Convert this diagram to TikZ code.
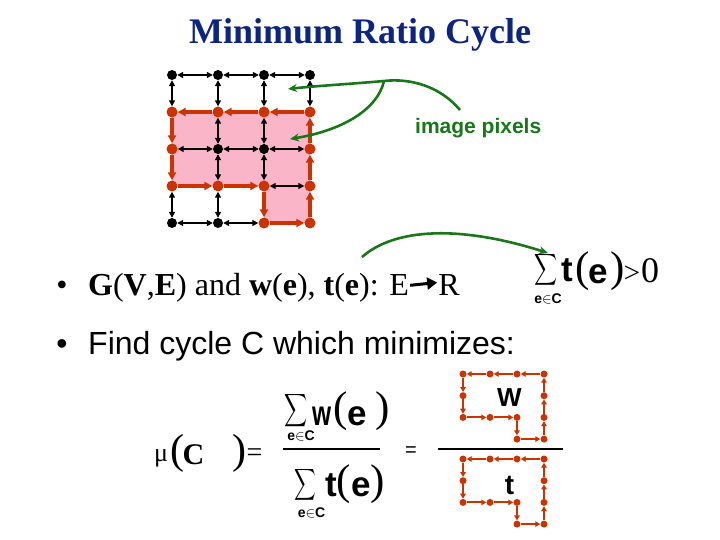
\documentclass[tikz,border=0pt]{standalone}
\usepackage{fontspec}
\usepackage{graphicx}
\setmainfont{Liberation Serif}
\setsansfont{Liberation Sans}
\usetikzlibrary{arrows.meta}
\definecolor{navy}{RGB}{12,36,130}
\definecolor{cycred}{RGB}{204,51,0}
\definecolor{pinkfill}{RGB}{250,182,200}
\definecolor{arrgreen}{RGB}{24,120,24}
\pgfdeclarelayer{bg}
\pgfsetlayers{bg,main}
\tikzset{
  bdot/.style={circle,fill=black,inner sep=0pt,minimum size=10pt},
  rdot/.style={circle,fill=cycred,inner sep=0pt,minimum size=11pt},
  sdot/.style={circle,fill=cycred,inner sep=0pt,minimum size=7pt},
  bedge/.style={line width=1.8pt,black,{Triangle[length=6pt,width=6pt]}-{Triangle[length=6pt,width=6pt]}},
  redge/.style={line width=3.2pt,cycred,-{Triangle[length=8pt,width=8pt]}},
  sredge/.style={line width=2pt,cycred,-{Triangle[length=5pt,width=5.5pt]}},
  garrow/.style={line width=2.6pt,arrgreen,-{Stealth[length=9pt,width=8pt]}},
  glyph/.style={inner sep=0pt,anchor=center},
  ab/.style={font=\fontsize{#1}{#1}\selectfont\sffamily\bfseries},
  tr/.style={font=\fontsize{#1}{#1}\selectfont\rmfamily},
  sub/.style={inner sep=0pt,anchor=center,font=\fontsize{14}{14}\selectfont\sffamily\bfseries},
}
\begin{document}
\begin{tikzpicture}[x=1pt,y=-1pt]
\useasboundingbox (0,0) rectangle (720,540);
% title
\node[anchor=base,inner sep=0pt,text=navy,font=\fontsize{36}{36}\selectfont\rmfamily\bfseries] (title) at (360,44) {Minimum Ratio Cycle};
% grid nodes
\foreach \i/\j/\s in {0/0/bdot,1/0/bdot,2/0/bdot,3/0/bdot,
  0/1/rdot,1/1/rdot,2/1/rdot,3/1/rdot,
  0/2/rdot,1/2/bdot,2/2/bdot,3/2/rdot,
  0/3/rdot,1/3/rdot,2/3/rdot,3/3/rdot,
  0/4/bdot,1/4/bdot,2/4/rdot,3/4/rdot}
  \node[\s] (g\i\j) at ({172+46*\i},{75+37*\j}) {};
\begin{pgfonlayer}{bg}
\fill[pinkfill] (g01.center) -- (g31.center) -- (g34.center) -- (g24.center) -- (g23.center) -- (g03.center) -- cycle;
\end{pgfonlayer}
\foreach \u/\v in {00/10,10/20,20/30,00/01,10/11,20/21,30/31,11/12,21/22,02/12,12/22,22/32,12/13,22/23,23/33,03/04,13/14,04/14,14/24}
  \draw[bedge] (g\u) -- (g\v);
\foreach \u/\v in {31/21,21/11,11/01,01/02,02/03,03/13,13/23,23/24,24/34,34/33,33/32,32/31}
  \draw[redge] (g\u) -- (g\v);
% label and green arrows
\node[anchor=base west,inner sep=0pt,text=arrgreen,font=\fontsize{21}{21}\selectfont\sffamily\bfseries] (pix) at (415,134) {image pixels};
\coordinate (ga0) at (460,110);
\coordinate (gb) at (384,81);
\coordinate (gt1) at (288,89);
\coordinate (gt2) at (290,139);
\draw[garrow] (ga0) .. controls (440,86) and (410,78) .. (gb) .. controls (350,84) and (315,86) .. (gt1);
\draw[garrow] (gb) .. controls (378,108) and (345,130) .. (gt2);
\coordinate (gc0) at (362,257);
\coordinate (gc1) at (548,253);
\draw[garrow] (gc0) .. controls (395,228) and (460,225) .. (gc1);
% bullet 1
\node[anchor=base,inner sep=0pt,tr=32] (b1) at (62,295) {•};
\node[anchor=base west,inner sep=0pt,tr=32] (l1) at (88,295) {\textbf{G}(\textbf{V},\textbf{E}) and \textbf{w}(\textbf{e}), \textbf{t}(\textbf{e}): E};
\node[anchor=base west,inner sep=0pt,tr=32] (rr) at ([xshift=29pt]l1.base east) {R};
\draw[line width=3pt,-{Triangle[length=10pt,width=12pt]}] ([xshift=1pt,yshift=2pt]l1.east) -- ([xshift=-1pt,yshift=2pt]rr.west);
% right condition
\node[glyph] (s1) at (546,270) {\scalebox{1.6}[2.2]{$\displaystyle\sum$}};
\node[sub] (s1sub) at (548,299) {e$\in$C};
\node[glyph,ab=35] (s1t) at (567.5,270) {t};
\node[glyph,tr=43] (s1p1) at (582.5,271) {(};
\node[glyph,ab=35] (s1e) at (598,274) {e};
\node[glyph,tr=43] (s1p2) at (617.5,271) {)};
\node[glyph,tr=29] (s1gt) at (632,274) {>};
\node[glyph,tr=36] (s1z) at (650,270.5) {0};
% bullet 2
\node[anchor=base,inner sep=0pt,font=\fontsize{32}{32}\selectfont\sffamily] (b2) at (62,354) {•};
\node[anchor=base west,inner sep=0pt,font=\fontsize{32}{32}\selectfont\sffamily] (l2) at (88,354) {Find cycle C which minimizes:};
% mu(C) =
\node[glyph,tr=26] (mu) at (161,458) {μ};
\node[glyph,tr=42] (pa1) at (177,453.5) {(};
\node[glyph,font=\fontsize{30}{30}\selectfont\rmfamily\bfseries] (cc) at (193.5,455) {C};
\node[glyph,tr=42] (pa2) at (239,453.5) {)};
\node[glyph,tr=28] (eq1) at (254.5,455.5) {=};
% numerator
\node[glyph] (s2) at (296,411) {\scalebox{1.6}[2.3]{$\displaystyle\sum$}};
\node[sub] (s2sub) at (301,435.5) {e$\in$C};
\node[glyph,ab=35] (s2w) at (322.5,416) {\scalebox{0.7}[1]{w}};
\node[glyph,tr=43] (s2p1) at (341,411) {(};
\node[glyph,ab=35] (s2e) at (357.5,416) {e};
\node[glyph,tr=43] (s2p2) at (383,411) {)};
\draw[line width=2.5pt] (283,449) -- (380,449);
% denominator
\node[glyph] (s3) at (305,485) {\scalebox{1.5}[2.2]{$\displaystyle\sum$}};
\node[sub] (s3sub) at (311.5,512.5) {e$\in$C};
\node[glyph,ab=35] (s3t) at (331,485) {t};
\node[glyph,tr=43] (s3p1) at (344,484) {(};
\node[glyph,ab=35] (s3e) at (361,487) {e};
\node[glyph,tr=43] (s3p2) at (377.5,484) {)};
\node[glyph,font=\fontsize{20}{20}\selectfont\sffamily] (eq2) at (411,451.5) {=};
% right fraction
\draw[line width=2.5pt] (438,449) -- (563,449);
\foreach \p/\oy in {a/374,b/459} {
  \foreach \i/\j in {3/1,2/1,1/1,0/1,0/2,0/3,1/3,2/3,2/4,3/4,3/3,3/2}
    \node[sdot] (\p\i\j) at ({463+27*\i},{\oy+21.7*(\j-1)}) {};
  \foreach \u/\v in {31/21,21/11,11/01,01/02,02/03,03/13,13/23,23/24,24/34,34/33,33/32,32/31}
    \draw[sredge] (\p\u) -- (\p\v);
}
\node[glyph,ab=26] (wl) at (509.5,397.5) {W};
\node[glyph,ab=28] (tl) at (509.5,485) {t};
\end{tikzpicture}
\end{document}
